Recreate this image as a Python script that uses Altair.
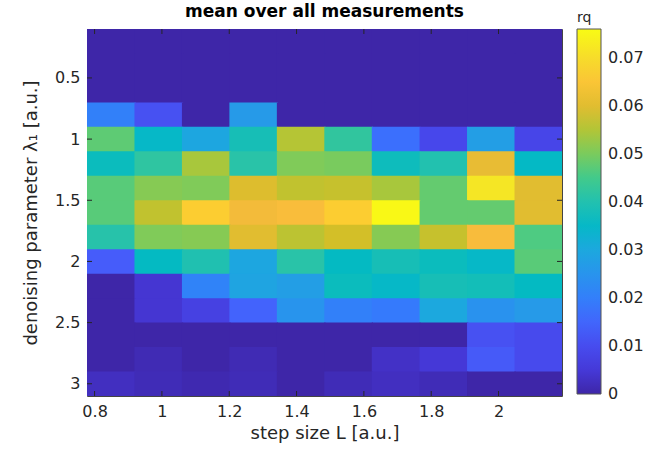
import altair as alt
import pandas as pd

# ---- data ----
x_centers = [0.848, 0.989, 1.130, 1.271, 1.412, 1.553, 1.694, 1.836, 1.977, 2.118]
y_centers = [0.2, 0.4, 0.6, 0.8, 1.0, 1.2, 1.4, 1.6, 1.8, 2.0, 2.2, 2.4, 2.6, 2.8, 3.0]
cell_w = 0.1411
cell_h = 0.2

rq_rows = [
    [0, 0, 0, 0, 0, 0, 0, 0, 0, 0],
    [0, 0, 0, 0, 0, 0, 0, 0, 0, 0],
    [0, 0, 0, 0, 0, 0, 0, 0, 0, 0],
    [0.0204, 0.0108, 0, 0.0265, 0, 0, 0, 0, 0, 0],
    [0.0475, 0.0350, 0.0295, 0.0385, 0.0553, 0.0424, 0.0168, 0.0090, 0.0276, 0.0084],
    [0.0370, 0.0421, 0.0540, 0.0410, 0.0505, 0.0499, 0.0373, 0.0400, 0.0607, 0.0354],
    [0.0469, 0.0510, 0.0505, 0.0595, 0.0565, 0.0570, 0.0540, 0.0480, 0.0720, 0.0600],
    [0.0469, 0.0565, 0.0667, 0.0620, 0.0633, 0.0667, 0.0755, 0.0480, 0.0480, 0.0600],
    [0.0408, 0.0505, 0.0510, 0.0600, 0.0560, 0.0583, 0.0510, 0.0570, 0.0630, 0.0460],
    [0.0130, 0.0360, 0.0397, 0.0295, 0.0410, 0.0360, 0.0385, 0.0370, 0.0350, 0.0470],
    [0, 0.0042, 0.0210, 0.0290, 0.0276, 0.0370, 0.0350, 0.0385, 0.0380, 0.0360],
    [0, 0.0042, 0.0072, 0.0144, 0.0250, 0.0204, 0.0190, 0.0300, 0.0246, 0.0265],
    [0, 0, 0, 0, 0, 0, 0, 0, 0.0108, 0.0096],
    [0, 0.0012, 0, 0.0012, 0, 0, 0.0030, 0.0048, 0.0126, 0.0096],
    [0.0024, 0.0015, 0.0008, 0.0015, 0, 0.0015, 0.0024, 0.0015, 0, 0],
]

x_ticks = [0.8, 1.0, 1.2, 1.4, 1.6, 1.8, 2.0]
y_ticks = [0.5, 1.0, 1.5, 2.0, 2.5, 3.0]
cbar_ticks = [0, 0.01, 0.02, 0.03, 0.04, 0.05, 0.06, 0.07]
cbar_min = -0.00001
cbar_max = 0.076

# parula colormap samples (evenly spaced)
parula = ["#3e26a8", "#4537d5", "#4747eb", "#465efb", "#3875fe", "#2d89f5",
          "#259be7", "#18addb", "#02bac3", "#24c1ae", "#3fca8e", "#71cc64",
          "#a4c83e", "#d1bf27", "#f8ba3d", "#fccf30", "#f5e327", "#f9fb14"]

# ---- build table (cells overlap a hair so no anti-aliasing seams show) ----
ov_x = cell_w * 0.025
ov_y = cell_h * 0.045
recs = []
for yi, y in enumerate(y_centers):
    for xi, x in enumerate(x_centers):
        recs.append({
            "x0": x - cell_w / 2, "x1": x + cell_w / 2 + ov_x,
            "y0": y - cell_h / 2, "y1": y + cell_h / 2 + ov_y,
            "rq": rq_rows[yi][xi],
        })
df = pd.DataFrame(recs)

x_dom = [x_centers[0] - cell_w / 2, x_centers[-1] + cell_w / 2]
y_dom = [y_centers[0] - cell_h / 2, y_centers[-1] + cell_h / 2]

W, H = 475, 367
FONT = "DejaVu Sans"
TXT = "#262626"

xs = alt.Scale(domain=x_dom, nice=False, zero=False)
ys = alt.Scale(domain=y_dom, nice=False, zero=False, reverse=True)

heat = alt.Chart(df).mark_rect(strokeWidth=0, clip=True).encode(
    x=alt.X("x0:Q", scale=xs,
            axis=alt.Axis(title="step size L [a.u.]", values=x_ticks, format="~g",
                          grid=False, ticks=False, domain=False, labelPadding=7,
                          labelFontSize=16, titleFontSize=18, titleFontWeight="normal",
                          titlePadding=5, labelColor=TXT, titleColor=TXT)),
    x2="x1:Q",
    y=alt.Y("y0:Q", scale=ys,
            axis=alt.Axis(title="denoising parameter λ₁ [a.u.]", values=y_ticks, format="~g",
                          grid=False, ticks=False, domain=False, labelPadding=7,
                          labelFontSize=16, titleFontSize=18, titleFontWeight="normal",
                          titlePadding=14, labelColor=TXT, titleColor=TXT)),
    y2="y1:Q",
    color=alt.Color("rq:Q",
                    scale=alt.Scale(domain=[cbar_min, cbar_max], range=parula,
                                    interpolate="rgb", nice=False, zero=False),
                    legend=alt.Legend(type="gradient", title="rq", orient="none",
                                      legendX=490, legendY=-18,
                                      direction="vertical", gradientLength=365,
                                      gradientThickness=24, gradientStrokeColor="#555555",
                                      gradientStrokeWidth=1, values=cbar_ticks, format="~g",
                                      labelFontSize=16, labelOffset=7, labelColor=TXT,
                                      labelOverlap=False, labelBaseline="middle",
                                      titleFontSize=14, titleFontWeight="normal",
                                      titleColor=TXT, titlePadding=4, padding=0,
                                      titleAnchor="start")),
)

xt = pd.DataFrame({"t": x_ticks})
yt = pd.DataFrame({"t": y_ticks})
tick_col = TXT
bot = alt.Chart(xt).mark_rule(color=tick_col, strokeWidth=1).encode(
    x=alt.X("t:Q", scale=xs), y=alt.value(H), y2=alt.value(H - 5))
top = alt.Chart(xt).mark_rule(color=tick_col, strokeWidth=1).encode(
    x=alt.X("t:Q", scale=xs), y=alt.value(0), y2=alt.value(5))
left = alt.Chart(yt).mark_rule(color=tick_col, strokeWidth=1).encode(
    y=alt.Y("t:Q", scale=ys), x=alt.value(0), x2=alt.value(5))
right = alt.Chart(yt).mark_rule(color=tick_col, strokeWidth=1).encode(
    y=alt.Y("t:Q", scale=ys), x=alt.value(W - 5), x2=alt.value(W))

chart = alt.layer(heat, bot, top, left, right).properties(
    width=W, height=H,
    title=alt.Title("mean over all measurements", fontSize=17, fontWeight="bold",
                    font=FONT, color="#000000", offset=7, anchor="middle", frame="group",
                    dy=17),
    autosize=alt.AutoSizeParams(type="none"),
    padding={"left": 87, "top": 29, "right": 94, "bottom": 56},
).configure(font=FONT).configure_view(stroke="#444444", strokeWidth=1)

chart.save("out.html", embed_options={"renderer": "svg", "actions": False})
